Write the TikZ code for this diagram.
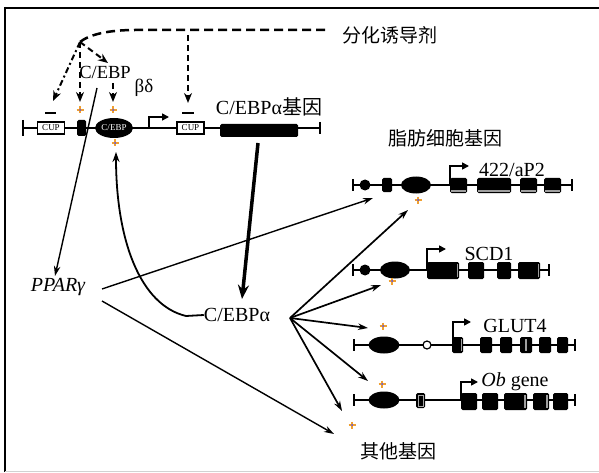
\documentclass[tikz,border=0pt]{standalone}
\usepackage{fontspec}
\setmainfont{Liberation Serif}
\newfontfamily\cjk{Noto Sans CJK SC}
\usetikzlibrary{arrows.meta,shapes.geometric}
\definecolor{plusc}{HTML}{F0A030}
\begin{document}
\begin{tikzpicture}[x=1pt,y=-1pt,
  lbl/.style={inner sep=0pt, font=\fontsize{20}{22}\selectfont},
  cjkl/.style={inner sep=0pt, font=\cjk\fontsize{19}{21}\selectfont},
  gl/.style={line width=1.6pt},
  exon/.style={fill=black, rounded corners=1.5pt},
  stripe/.style={draw=gray!75, line width=1.2pt},
  cupbox/.style={draw, line width=1.2pt, fill=white, minimum width=27pt, minimum height=12pt, inner sep=0pt, font=\fontsize{9}{9}\selectfont},
  gellipse/.style={ellipse, fill=black, minimum width=30pt, minimum height=17pt, inner sep=0pt},
  dsh/.style={line width=2pt, dash pattern=on 6pt off 4pt},
  arr/.style={-{Stealth[length=10pt,width=8pt]}},
  conn/.style={line width=1.4pt, -{Stealth[length=10pt,width=6.5pt]}},
  prom/.style={gl, -{Triangle[length=7pt,width=7pt]}},
  plusm/.pic={\draw[plusc,line width=2pt] (-3.5,0)--(3.5,0) (0,-3.5)--(0,3.5); \fill[blue!70] (0,0) circle (1);},
  minusm/.style={line width=2.5pt}
]
\useasboundingbox (0,0) rectangle (599,473);
\fill[white] (0,0) rectangle (599,473);
% frame
\draw[line width=2.7pt] (4,8) -- (599,8);
\draw[line width=2pt] (5,7) -- (5,472);
\draw[gray!35, line width=1pt] (5,471.5) -- (599,471.5);

% ===== labels =====
\node[cjkl] (induce) at (390,35) {分化诱导剂};
\node[inner sep=0pt, font=\fontsize{18.5}{20}\selectfont] (cebpbd) at (105,72) {C/EBP};
\node[inner sep=0pt, font=\fontsize{19}{20}\selectfont] (bd) at (144,88) {βδ};
\node[inner sep=0pt, font=\fontsize{20}{22}\selectfont] (agene) at (269,107) {C/EBPα\cjk 基因};
\node[cjkl] (adipo) at (445,138) {脂肪细胞基因};
\node[lbl, font=\itshape\fontsize{20}{22}\selectfont] (ppar) at (58,287) {PPARγ};
\node[lbl] (cebpa) at (237,315) {C/EBPα};
\node[cjkl] (other) at (398,451) {其他基因};
\node[lbl] (l422) at (512,170) {422/aP2};
\node[lbl] (lscd) at (489,254) {SCD1};
\node[lbl] (lglut) at (515,326) {GLUT4};
\node[lbl] (lob) at (515,382) {\textit{Ob} gene};

% ===== C/EBPalpha gene (y=128) =====
\draw[gl] (23,128) -- (320,128);
\draw[line width=2pt] (23,120) -- (23,136);
\draw[gl] (320,122) -- (320,134);
\node[cupbox] (cup1) at (51,128) {CUP};
\fill[exon] (77,120) rectangle (86,136);
\node[gellipse, minimum width=38pt, minimum height=20pt, text=white, font=\fontsize{9}{9}\selectfont] (ebp) at (114,128) {C/EBP};
\draw[prom] (149,128) -- (149,117) -- (169,117);
\node[cupbox] (cup2) at (190.5,128) {CUP};
\fill[exon] (220,124) rectangle (298,137);
\draw[minusm] (45,113) -- (56,113);
\draw[minusm] (182,113) -- (194,113);
\pic at (80,110) {plusm};
\pic at (113,110) {plusm};
\pic at (115,143) {plusm};

% ===== dashed inducer arrows =====
\coordinate (J) at (80,42);
\coordinate (dend) at (325,30);
\draw[line width=2.5pt, dash pattern=on 9pt off 5pt] (dend) -- (135,30) .. controls (110,30) and (90,34) .. (J);
\draw[line width=2pt, dash pattern=on 6pt off 3pt on 2pt off 3pt, arr] (J) -- (53,101);
\draw[dsh, arr] (J) -- (80,102);
\draw[dsh, arr] (J) -- (108,63);
\draw[dsh, arr] (113,83) -- (113,102);
\draw[dsh, arr] (188,35) -- (188,103);

% ===== solid connectors =====
\coordinate (cs) at (97,88);
\coordinate (pt) at (55,276);
\draw[conn] (cs) -- (pt);
\coordinate (gs) at (258,143);
\coordinate (gt) at (242,299);
\draw[line width=3.5pt, -{Stealth[length=14pt,width=11pt]}] (gs) -- (gt);
\coordinate (ct) at (116,152);
\draw[line width=1.8pt, -{Stealth[length=10pt,width=7pt]}] (cebpa.west) -- (186,316) .. controls (140,305) and (116,240) .. (ct);

\coordinate (p1) at (102,289);
\coordinate (p2) at (102,301);
\draw[conn] (p1) -- (373,198);
\draw[conn] (p2) -- (334,434);

\coordinate (hub) at (290,318);
\draw[conn, line width=1.7pt] (hub) -- (408,210);
\draw[conn, line width=1.7pt] (hub) -- (381,285);
\draw[conn, line width=1.7pt] (hub) -- (368,328);
\draw[conn, line width=1.7pt] (hub) -- (368,381);
\draw[conn, line width=1.7pt] (hub) -- (342,411);

% ===== 422/aP2 gene (y=185) =====
\draw[gl] (353,185) -- (572,185);
\draw[gl] (353,179) -- (353,191);
\draw[gl] (572,179) -- (572,191);
\fill (365,185) circle (5.5);
\fill[exon] (382,178) rectangle (392,192);
\node[gellipse] (e422) at (416,185) {};
\draw[prom] (450,185) -- (450,166) -- (469,166);
\foreach \a/\b in {450/467,477/511,520/537,544/561}{
  \fill[exon] (\a,178) rectangle (\b,193);
  \draw[stripe] (\a+1,191) -- (\b-1,191);
}
\pic at (418,200) {plusm};

% ===== SCD1 gene (y=270) =====
\draw[gl] (353,270) -- (549,270);
\draw[gl] (353,264) -- (353,276);
\draw[gl] (549,264) -- (549,276);
\fill (365,270) circle (5.5);
\node[gellipse] (escd) at (395,270) {};
\draw[prom] (427,270) -- (427,249) -- (446,249);
\foreach \a/\b in {427/459,468/484,497/511,518/540}{
  \fill[exon] (\a,262) rectangle (\b,279);
}
\draw[stripe] (457.5,264) -- (457.5,277);
\draw[stripe] (538.5,264) -- (538.5,277);
\pic at (392,281) {plusm};

% ===== GLUT4 gene (y=345) =====
\draw[gl] (354,345) -- (575,345);
\draw[gl] (354,339) -- (354,351);
\draw[gl] (575,339) -- (575,351);
\node[gellipse, minimum width=31pt] (eglut) at (384,345) {};
\draw[line width=1.2pt, fill=white] (427,345) circle (4);
\draw[prom] (453,345) -- (453,322) -- (471,322);
\foreach \a/\b in {452/463,480/492,500/512,520/532,539/551,557/568}{
  \fill[exon] (\a,337) rectangle (\b,353);
}
\draw[stripe] (461.5,339) -- (461.5,351);
\draw[stripe] (526,339) -- (526,351);
\pic at (383,326) {plusm};

% ===== Ob gene (y=400) =====
\draw[gl] (354,400) -- (575,400);
\draw[gl] (354,394) -- (354,406);
\draw[gl] (575,394) -- (575,406);
\node[gellipse, minimum width=31pt] (eob) at (384,400) {};
\fill[exon] (416,393) rectangle (425,408);
\draw[gray!70, line width=0.8pt] (418,395) rectangle (423,406);
\draw[prom] (461,400) -- (461,382) -- (478,382);
\foreach \a/\b in {461/477,482/498,504/527,533/549,553/568}{
  \fill[exon] (\a,393) rectangle (\b,410);
}
\draw[stripe] (525,395) -- (525,408);
\draw[stripe] (547,395) -- (547,408);
\pic at (382,384) {plusm};
\pic at (352,425) {plusm};
\end{tikzpicture}
\end{document}
